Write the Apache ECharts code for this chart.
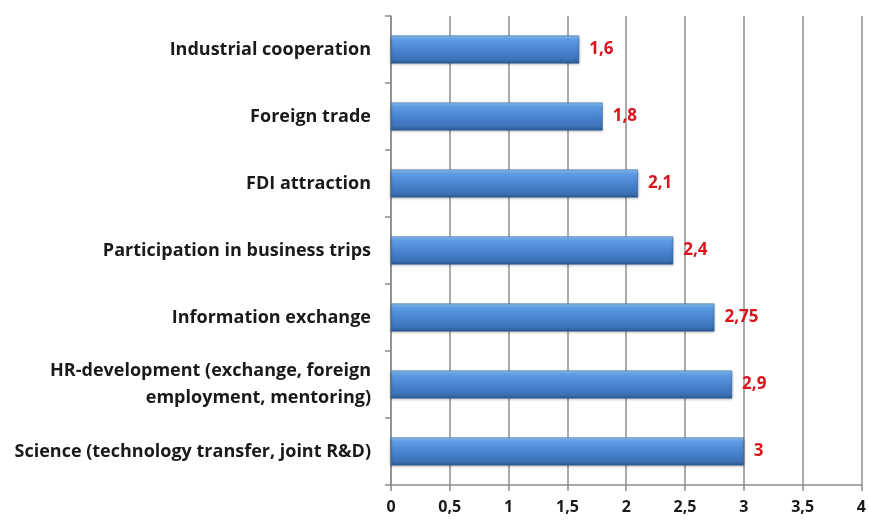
<!DOCTYPE html>
<html lang="en">
<head>
    <meta charset="UTF-8" />
    <title>Cooperation areas</title>
    <script src="https://cdn.jsdelivr.net/npm/echarts@6.0.0/dist/echarts.min.js"></script>
    <style>
        body { margin: 0; background: #fff; }
        #chart { width: 869px; height: 523px; }
    </style>
</head>
<body>
    <div id="chart"></div>
    <script>
        const categories = [
            'Industrial cooperation',
            'Foreign trade',
            'FDI attraction',
            'Participation in business trips',
            'Information exchange',
            'HR-development (exchange, foreign\nemployment, mentoring)',
            'Science (technology transfer, joint R&D)'
        ];
        const values = [1.6, 1.8, 2.1, 2.4, 2.75, 2.9, 3];

        const fmt = v => String(v).replace('.', ',');
        const font = '"Open Sans", Lato, sans-serif';

        const chart = echarts.init(document.getElementById('chart'));
        chart.setOption({
            animation: false,
            grid: { left: 391, right: 4, top: 16, bottom: 38 },
            xAxis: {
                type: 'value',
                min: 0,
                max: 4,
                interval: 0.5,
                axisLine: { show: true, lineStyle: { color: '#8a8a8a', width: 1.5 } },
                axisTick: { show: true, length: 6, lineStyle: { color: '#8a8a8a', width: 1.5 } },
                splitLine: { show: true, lineStyle: { color: '#8f8f8f', width: 1.5 } },
                axisLabel: {
                    formatter: fmt,
                    fontFamily: font,
                    fontWeight: 'bold',
                    fontSize: 16,
                    color: '#1a1a1a',
                    margin: 14
                }
            },
            yAxis: {
                type: 'category',
                inverse: true,
                data: categories,
                axisLine: { show: true, lineStyle: { color: '#8a8a8a', width: 1.5 } },
                axisTick: { show: true, length: 6, lineStyle: { color: '#8a8a8a', width: 1.5 } },
                axisLabel: {
                    fontFamily: font,
                    fontWeight: 'bold',
                    fontSize: 18,
                    color: '#1a1a1a',
                    margin: 20,
                    lineHeight: 27,
                    align: 'right'
                }
            },
            series: [{
                type: 'bar',
                data: values,
                barWidth: 28,
                itemStyle: {
                    color: new echarts.graphic.LinearGradient(0, 0, 0, 1, [
                        { offset: 0, color: '#8cc2f5' },
                        { offset: 0.15, color: '#5d9de4' },
                        { offset: 0.5, color: '#4a85cf' },
                        { offset: 0.85, color: '#3d72b8' },
                        { offset: 1, color: '#2c578f' }
                    ]),
                    borderColor: '#2f5f9a',
                    borderWidth: 0.5,
                    shadowColor: 'rgba(0,0,0,0.35)',
                    shadowBlur: 3,
                    shadowOffsetY: 1
                },
                label: {
                    show: true,
                    position: 'right',
                    distance: 10,
                    formatter: p => fmt(p.value),
                    fontFamily: font,
                    fontWeight: 'bold',
                    fontSize: 17,
                    color: '#d9141a'
                }
            }]
        });
    </script>
</body>
</html>
